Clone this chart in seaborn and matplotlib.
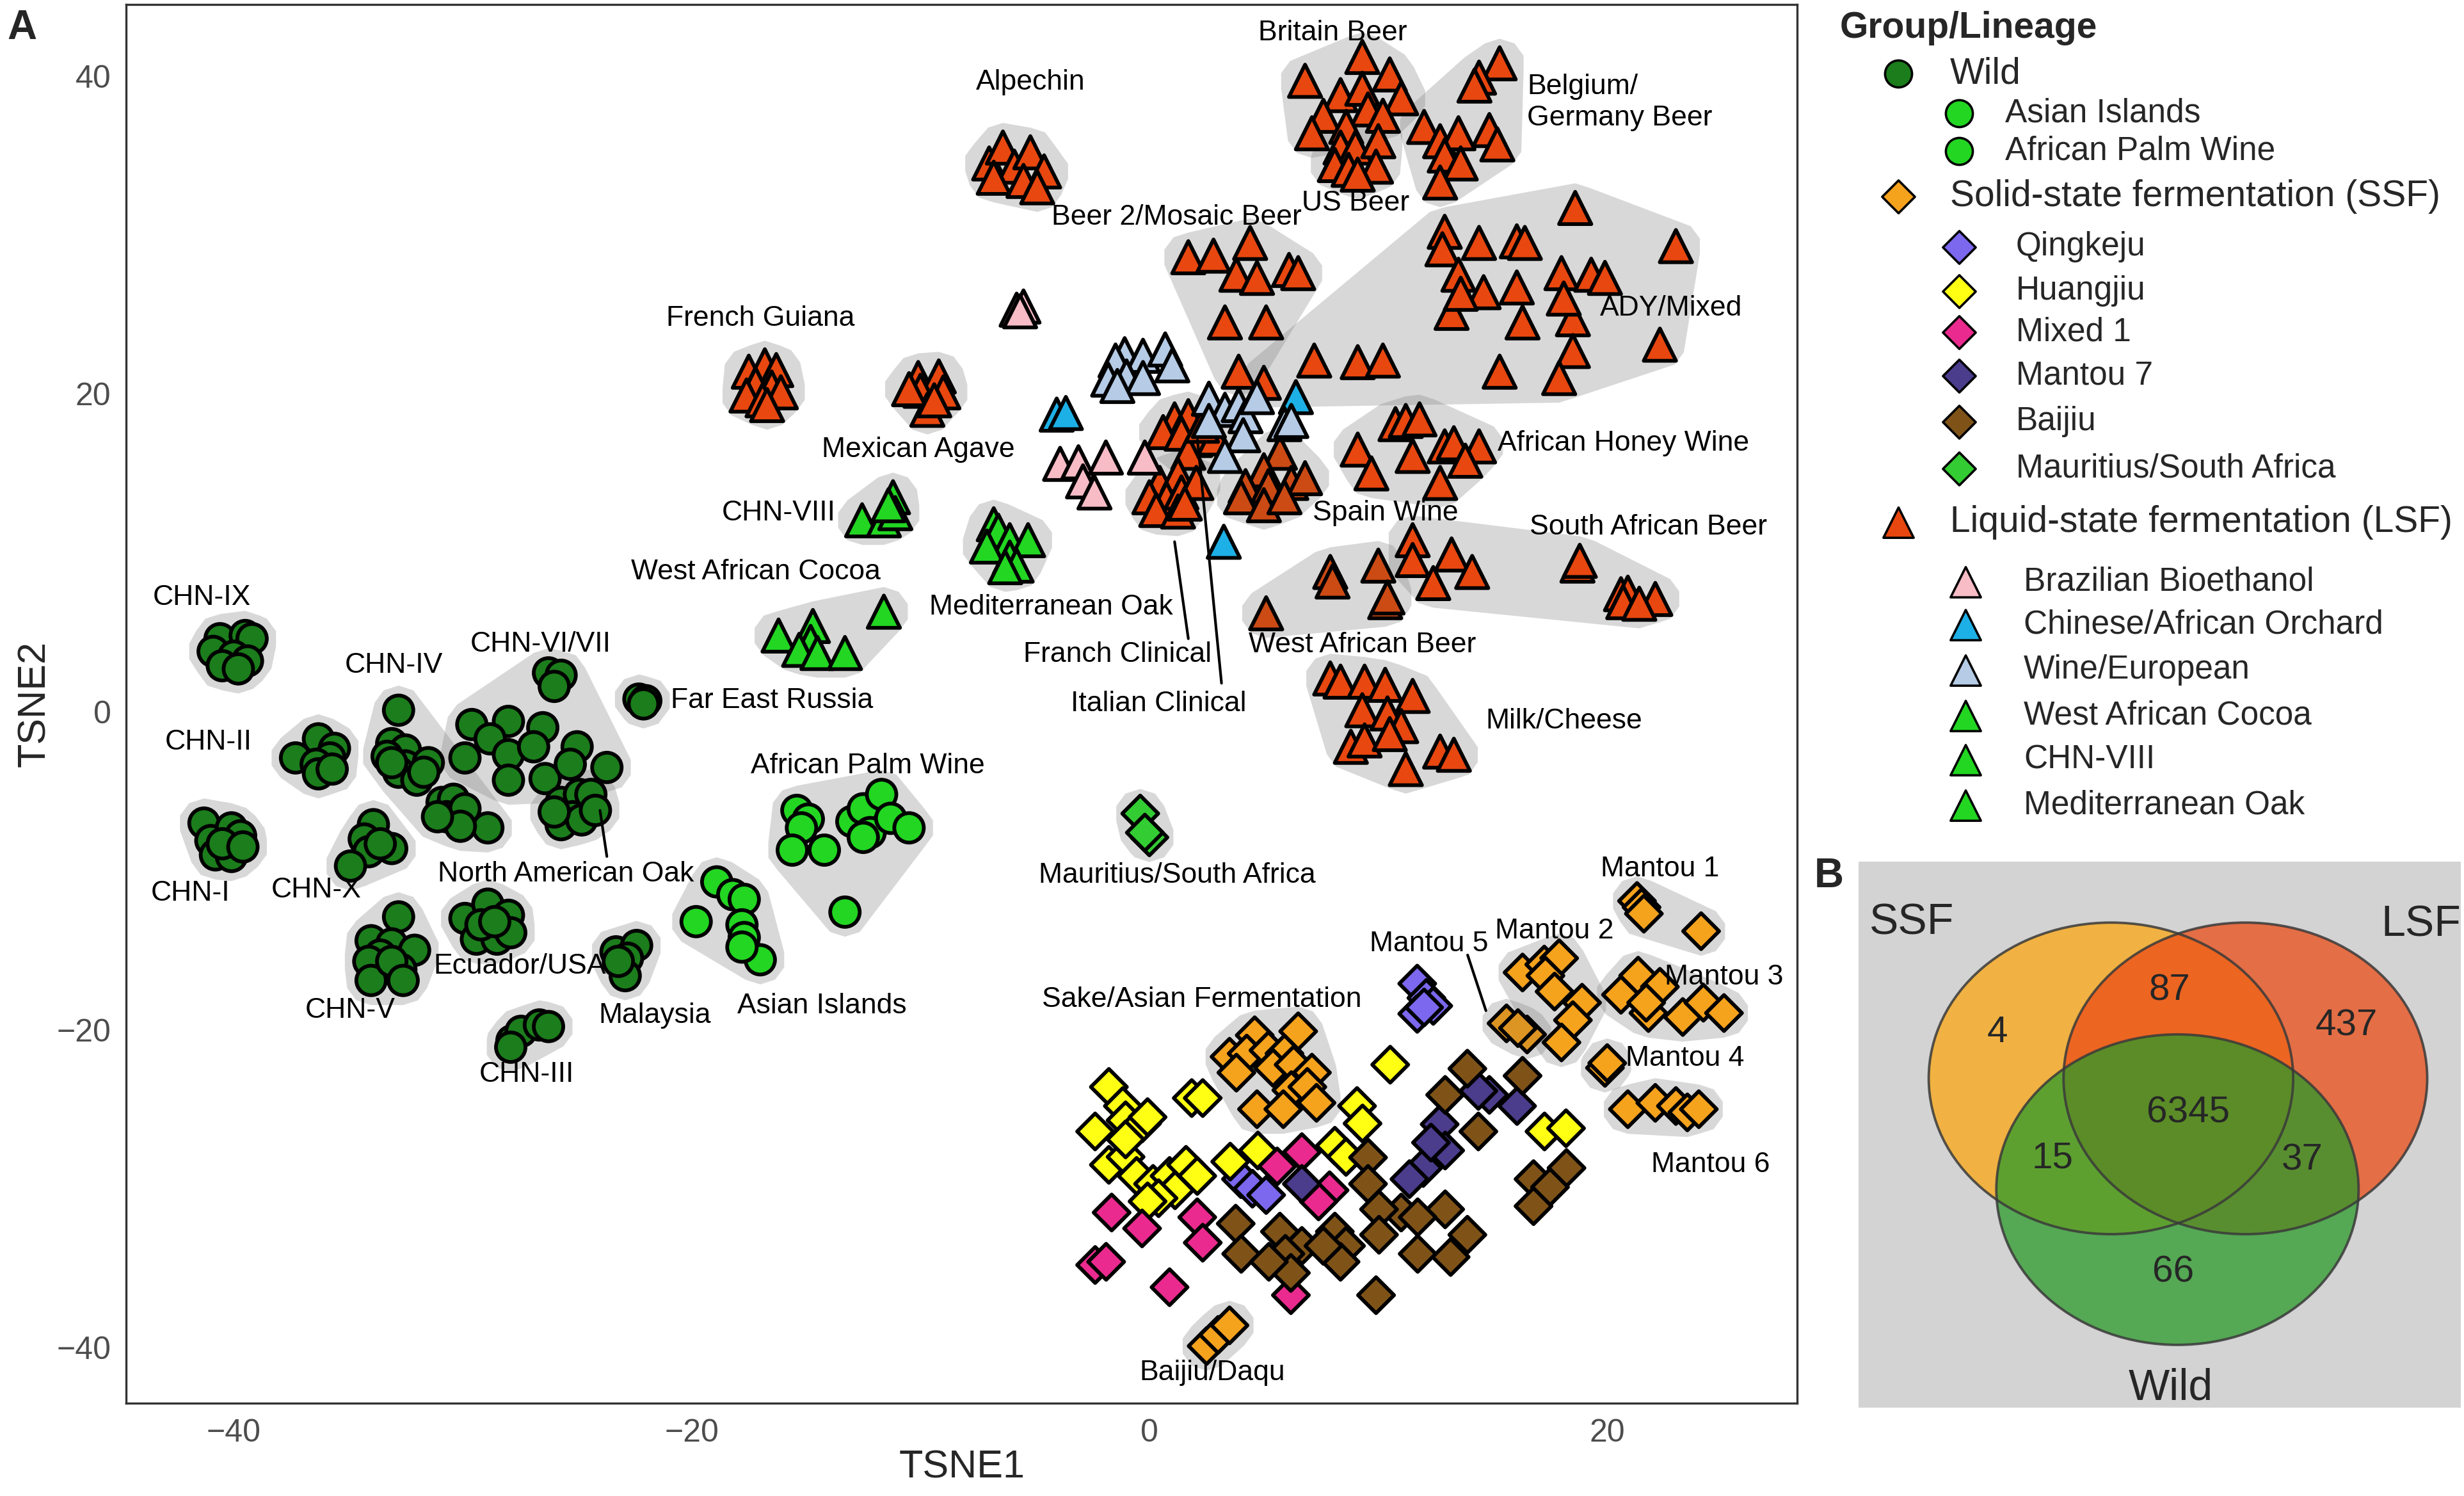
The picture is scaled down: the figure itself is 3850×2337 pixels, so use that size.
import numpy as np
import pandas as pd
import seaborn as sns
import matplotlib.pyplot as plt
from matplotlib.patches import Ellipse, Polygon

# ---------------- t-SNE coordinates ----------------
# Wild (circles)
chn_ix = [(-40.6, 4.6), (-39.5, 4.8), (-39.2, 4.6), (-40.9, 3.8), (-40.0, 3.5), (-39.4, 3.2), (-40.5, 2.9), (-39.8, 2.7)]
chn_ii = [(-37.3, -2.9), (-36.3, -1.7), (-35.6, -2.3), (-35.8, -2.9), (-36.4, -3.3), (-36.3, -3.9), (-35.7, -3.6)]
chn_i = [(-41.3, -7.0), (-41.0, -8.1), (-40.1, -7.3), (-39.7, -7.8), (-40.8, -9.0), (-40.1, -9.1), (-40.5, -8.3), (-39.6, -8.5)]
chn_x = [(-33.9, -7.1), (-34.3, -8.0), (-33.1, -8.6), (-34.1, -8.8), (-34.9, -9.7), (-33.6, -8.3)]
chn_iv = [(-32.8, 0.1), (-33.1, -2.0), (-32.5, -2.4), (-33.3, -2.8), (-32.5, -3.4), (-31.5, -3.2), (-32.8, -3.8),
          (-32.0, -4.3), (-33.1, -3.2), (-31.7, -3.8), (-30.9, -5.7), (-30.4, -5.5), (-30.7, -6.6), (-29.9, -6.1),
          (-28.9, -7.3), (-30.1, -7.2), (-31.1, -6.6)]
chn_vi_vii = [(-26.25, 2.45), (-25.7, 2.3), (-26.0, 1.6), (-29.6, -0.8), (-28.0, -0.6), (-26.5, -1.0), (-29.9, -2.9),
              (-28.8, -1.7), (-28.0, -2.7), (-26.9, -2.2), (-25.0, -2.2), (-23.7, -3.5), (-28.0, -4.3), (-26.4, -4.2),
              (-25.3, -3.3)]
na_oak = [(-25.7, -5.7), (-24.9, -5.2), (-24.4, -5.2), (-25.2, -6.6), (-25.7, -7.1), (-24.8, -6.8), (-24.2, -6.2), (-26.0, -6.3)]
far_east_russia = [(-22.3, 0.8), (-22.0, 0.7), (-22.1, 0.5)]
chn_v = [(-32.8, -12.9), (-34.0, -14.4), (-33.1, -14.6), (-32.1, -15.0), (-33.6, -15.3), (-34.1, -15.7), (-32.7, -16.2),
         (-34.0, -16.9), (-33.1, -15.7), (-32.6, -16.9)]
ecuador_usa = [(-29.9, -13.0), (-28.9, -12.1), (-28.0, -12.8), (-29.4, -14.3), (-28.5, -14.3), (-27.9, -13.9),
               (-29.2, -13.4), (-28.6, -13.2)]
malaysia = [(-23.3, -15.1), (-22.4, -14.7), (-22.8, -15.5), (-22.9, -16.6), (-23.2, -15.7)]
chn_iii = [(-27.85, -20.7), (-27.45, -20.1), (-26.65, -19.7), (-26.25, -19.8), (-27.9, -21.1)]
asian_islands = [(-18.9, -10.7), (-18.2, -11.5), (-17.7, -11.8), (-19.8, -13.2), (-17.8, -13.4), (-17.7, -14.2), (-17.0, -15.6), (-17.8, -14.8)]
palm_wine = [(-15.4, -6.2), (-14.9, -6.75), (-15.2, -7.3), (-15.6, -8.7), (-14.2, -8.7), (-13.0, -6.9), (-12.5, -6.1),
             (-11.7, -5.2), (-12.2, -7.6), (-11.3, -6.7), (-10.5, -7.3), (-13.3, -12.6), (-12.5, -7.9)]

# Solid-state fermentation (diamonds)
mantou_1 = [(21.3, -11.9), (21.5, -12.3), (21.6, -12.7), (24.1, -13.8)]
mantou_2 = [(16.3, -16.4), (17.25, -15.9), (17.9, -15.5), (17.3, -16.6), (17.7, -17.6), (18.9, -18.3), (18.5, -19.4), (18.0, -20.8)]
mantou_3 = [(20.6, -17.8), (21.35, -16.6), (22.3, -17.3), (21.8, -18.95), (23.3, -19.2), (24.2, -18.3), (25.1, -18.95), (21.7, -18.3)]
mantou_4 = [(19.9, -22.4), (20.0, -22.1)]
mantou_5 = [(15.6, -19.6), (16.5, -20.3), (16.1, -19.9)]
mantou_6 = [(20.9, -25.0), (22.1, -24.6), (23.0, -24.8), (23.5, -25.2), (24.0, -25.0)]
sake = [(4.6, -20.35), (6.5, -20.1), (3.5, -21.7), (4.25, -21.5), (5.2, -21.3), (5.9, -21.5), (3.8, -22.7), (5.4, -22.4),
        (6.3, -22.2), (7.1, -22.7), (6.2, -23.8), (6.9, -23.6), (4.7, -25.0), (5.85, -25.0), (7.3, -24.6)]
baijiu_daqu = [(2.5, -39.9), (3.0, -39.2), (3.5, -38.6)]
qingkeju = [(11.7, -17.1), (12.1, -18.0), (12.4, -18.5), (11.7, -19.0), (12.0, -18.6), (4.0, -29.4), (4.5, -30.0), (5.1, -30.4)]
huangjiu = [(-1.77, -23.6), (-1.16, -24.8), (-2.37, -26.4), (-1.04, -25.7), (-0.32, -25.9), (-0.08, -25.5), (-1.77, -28.5),
            (-1.04, -28.0), (-0.56, -29.2), (0.16, -29.7), (0.88, -29.2), (1.6, -28.5), (2.09, -29.2), (1.12, -30.1),
            (0.4, -30.6), (-0.08, -30.8), (1.85, -24.3), (2.33, -24.3), (3.53, -28.3), (4.74, -27.6), (8.1, -27.3),
            (8.59, -28.0), (9.07, -24.8), (9.31, -25.9), (10.52, -22.2), (17.26, -26.4), (18.2, -26.2), (-1.04, -26.9)]
mixed_1 = [(-1.65, -31.5), (-0.32, -32.5), (2.09, -31.8), (2.33, -33.4), (-2.37, -34.8), (-1.89, -34.6), (0.88, -36.2),
           (6.18, -36.7), (5.58, -28.6), (6.66, -27.7), (7.87, -30.1), (7.39, -30.8)]
mantou_7 = [(14.85, -24.1), (14.37, -23.85), (16.06, -24.8), (12.68, -25.95), (12.92, -27.6), (11.96, -28.7), (11.36, -29.4),
            (6.66, -29.7), (12.3, -27.1)]
baijiu = [(13.89, -22.45), (16.3, -22.9), (12.92, -24.1), (9.55, -28.04), (9.55, -29.7), (14.37, -26.4), (18.22, -28.7),
          (16.78, -29.4), (17.5, -29.9), (16.78, -31.1), (12.92, -31.3), (11.0, -31.5), (11.72, -31.8), (10.03, -31.3),
          (8.1, -32.7), (8.59, -33.6), (8.35, -34.6), (6.66, -33.6), (5.7, -32.7), (5.94, -34.1), (6.18, -35.3),
          (3.77, -32.2), (4.01, -34.1), (10.03, -32.9), (11.72, -34.1), (13.16, -34.3), (13.89, -32.9), (9.9, -36.7),
          (7.6, -33.6), (5.22, -34.6)]
mauritius = [(-0.4, -6.4), (0.0, -7.9), (-0.2, -7.6)]

# Liquid-state fermentation (triangles)
britain_beer = [(9.3, 41.2), (6.8, 39.7), (10.5, 40.1), (8.35, 38.8), (9.3, 39.2), (11.0, 38.6), (7.6, 37.5), (9.55, 37.9),
                (10.2, 37.5), (7.1, 36.4), (8.6, 36.8)]
us_beer = [(8.35, 35.5), (9.0, 35.5), (10.0, 35.9), (8.1, 34.4), (8.7, 34.1), (9.9, 34.3), (9.1, 33.8)]
belgium_beer = [(15.3, 40.8), (14.4, 39.9), (14.2, 39.4), (12.0, 36.8), (12.7, 35.9), (13.5, 36.4), (14.85, 36.6),
                (15.2, 35.7), (12.9, 35.0), (13.6, 34.5), (12.7, 33.3)]
alpechin = [(-7.0, 34.5), (-6.4, 35.5), (-5.9, 34.3), (-5.2, 35.2), (-4.6, 34.0), (-6.8, 33.6), (-5.5, 33.4), (-4.9, 33.0)]
beer_2 = [(1.7, 28.6), (2.8, 28.7), (4.4, 29.5), (3.8, 27.5), (4.7, 27.3), (6.1, 27.8), (6.5, 27.6), (3.3, 24.5),
          (5.1, 24.5), (3.9, 21.4)]
ady_mixed = [(18.6, 31.7), (12.9, 30.2), (12.8, 29.1), (14.4, 29.5), (16.05, 29.6), (16.4, 29.5), (23.0, 29.3), (13.5, 27.5),
             (14.6, 26.4), (16.05, 26.7), (18.0, 27.6), (19.3, 27.5), (19.9, 27.3), (13.2, 25.1), (16.3, 24.5), (18.5, 24.7),
             (18.1, 26.0), (22.3, 23.1), (18.5, 22.7), (15.3, 21.4), (17.9, 21.0), (13.6, 26.3), (7.2, 22.1), (9.1, 22.0),
             (10.2, 22.1), (5.0, 20.7)]
french_guiana = [(-17.5, 21.4), (-16.8, 21.8), (-16.3, 21.5), (-17.2, 20.6), (-16.5, 20.4), (-17.6, 19.9), (-16.9, 19.6),
                 (-16.1, 20.1), (-16.7, 19.3)]
mexican_agave = [(-10.1, 21.0), (-9.2, 21.1), (-10.0, 20.2), (-9.0, 20.1), (-9.7, 19.0), (-10.5, 20.3), (-9.4, 19.6)]
italian_clinical = [(1.1, 18.4), (1.7, 18.6), (0.6, 17.6), (1.4, 17.5), (2.0, 17.1), (2.85, 17.2), (1.7, 16.3), (2.3, 18.0)]
franch_clinical = [(0.45, 14.4), (1.25, 14.9), (0.0, 13.5), (0.75, 13.4), (1.4, 13.8), (2.05, 14.4), (0.3, 12.7),
                   (1.25, 12.6), (1.55, 13.1)]
honey_wine = [(10.75, 18.1), (11.2, 18.3), (11.8, 18.4), (9.1, 16.5), (9.7, 15.0), (11.5, 16.1), (12.9, 16.7), (13.3, 16.9),
              (14.4, 16.7), (13.8, 15.8), (12.7, 14.4)]
spain_wine = [(5.7, 16.3), (5.0, 15.2), (4.2, 14.2), (5.2, 14.2), (6.2, 14.4), (6.8, 14.7), (4.0, 13.5), (5.0, 13.0), (5.9, 13.5)]
south_african_beer = [(11.5, 10.8), (11.5, 9.55), (13.2, 9.9), (14.1, 8.8), (12.4, 8.1), (18.7, 9.2), (18.8, 9.5),
                      (20.6, 7.4), (20.9, 7.5), (22.1, 7.1), (20.7, 6.9), (21.4, 6.8)]
west_african_beer = [(7.9, 8.8), (8.0, 8.2), (10.0, 9.2), (10.3, 6.9), (10.4, 7.2), (5.1, 6.2)]
milk_cheese = [(7.9, 2.1), (8.35, 1.9), (9.4, 1.9), (10.3, 1.7), (11.5, 1.0), (9.3, 0.1), (10.4, -0.1), (11.0, -0.9),
               (8.8, -2.2), (9.4, -1.8), (10.5, -1.4), (12.7, -2.5), (13.3, -2.7), (11.2, -3.6)]
braz_bioethanol = [(-5.8, 25.3), (-5.5, 25.5), (-5.65, 25.2), (-3.9, 15.6), (-3.1, 15.7), (-1.9, 16.0), (-2.9, 14.5),
                   (-2.4, 13.8), (-0.2, 16.0)]
orchard = [(-4.05, 18.7), (-3.65, 18.8), (6.4, 19.8), (3.25, 10.7)]
wine_european = [(-1.08, 22.5), (-1.48, 22.1), (-0.28, 22.4), (0.69, 22.8), (1.0, 21.8), (-1.8, 20.9), (-1.0, 21.1),
                 (-0.28, 21.0), (-1.4, 20.5), (2.6, 19.7), (3.3, 19.0), (3.9, 19.3), (4.2, 18.6), (4.7, 19.8),
                 (4.1, 17.4), (3.3, 16.1), (5.9, 18.1), (2.6, 18.3), (6.2, 18.3)]
west_african_cocoa = [(-16.2, 4.8), (-14.7, 5.4), (-14.8, 4.4), (-15.3, 3.9), (-14.5, 3.7), (-13.3, 3.7), (-11.6, 6.3)]
chn_viii = [(-12.55, 12.05), (-11.2, 13.5), (-11.6, 12.05), (-11.1, 12.5), (-11.4, 13.0)]
med_oak = [(-6.8, 11.8), (-6.6, 11.4), (-6.1, 10.8), (-5.3, 10.8), (-7.1, 10.4), (-6.1, 9.7), (-5.8, 9.2), (-6.3, 9.1)]

# cluster table: name, group, lineage (colour key), points, draw hull
clusters = [
    ("CHN-IX", "Wild", "Wild", chn_ix, True), ("CHN-II", "Wild", "Wild", chn_ii, True),
    ("CHN-I", "Wild", "Wild", chn_i, True), ("CHN-X", "Wild", "Wild", chn_x, True),
    ("CHN-IV", "Wild", "Wild", chn_iv, True), ("CHN-VI/VII", "Wild", "Wild", chn_vi_vii, True),
    ("North American Oak", "Wild", "Wild", na_oak, True), ("Far East Russia", "Wild", "Wild", far_east_russia, True),
    ("CHN-V", "Wild", "Wild", chn_v, True), ("Ecuador/USA", "Wild", "Wild", ecuador_usa, True),
    ("Malaysia", "Wild", "Wild", malaysia, True), ("CHN-III", "Wild", "Wild", chn_iii, True),
    ("Asian Islands", "Wild", "Asian Islands", asian_islands, True),
    ("African Palm Wine", "Wild", "African Palm Wine", palm_wine, True),
    ("Mantou 1", "SSF", "SSF", mantou_1, True), ("Mantou 2", "SSF", "SSF", mantou_2, True),
    ("Mantou 3", "SSF", "SSF", mantou_3, True), ("Mantou 4", "SSF", "SSF", mantou_4, True),
    ("Mantou 5", "SSF", "Mantou 5", mantou_5, True), ("Mantou 6", "SSF", "SSF", mantou_6, True),
    ("Sake/Asian Fermentation", "SSF", "SSF", sake, True), ("Baijiu/Daqu", "SSF", "SSF", baijiu_daqu, True),
    ("Qingkeju", "SSF", "Qingkeju", qingkeju, False), ("Huangjiu", "SSF", "Huangjiu", huangjiu, False),
    ("Mixed 1", "SSF", "Mixed 1", mixed_1, False), ("Mantou 7", "SSF", "Mantou 7", mantou_7, False),
    ("Baijiu", "SSF", "Baijiu", baijiu, False),
    ("Mauritius/South Africa", "SSF", "Mauritius/South Africa", mauritius, True),
    ("Britain Beer", "LSF", "LSF", britain_beer, True), ("US Beer", "LSF", "LSF", us_beer, True),
    ("Belgium/Germany Beer", "LSF", "LSF", belgium_beer, True), ("Alpechin", "LSF", "LSF", alpechin, True),
    ("Beer 2/Mosaic Beer", "LSF", "LSF", beer_2, True), ("ADY/Mixed", "LSF", "LSF", ady_mixed, True),
    ("French Guiana", "LSF", "LSF", french_guiana, True), ("Mexican Agave", "LSF", "LSF", mexican_agave, True),
    ("Italian Clinical", "LSF", "LSF", italian_clinical, True), ("Franch Clinical", "LSF", "LSF", franch_clinical, True),
    ("African Honey Wine", "LSF", "LSF", honey_wine, True), ("Spain Wine", "LSF", "LSF dark", spain_wine, True),
    ("South African Beer", "LSF", "LSF", south_african_beer, True),
    ("West African Beer", "LSF", "LSF dark", west_african_beer, True),
    ("Milk/Cheese", "LSF", "LSF", milk_cheese, True),
    ("Brazilian Bioethanol", "LSF", "Brazilian Bioethanol", braz_bioethanol, False),
    ("Chinese/African Orchard", "LSF", "Chinese/African Orchard", orchard, False),
    ("Wine/European", "LSF", "Wine/European", wine_european, False),
    ("West African Cocoa", "LSF", "West African Cocoa", west_african_cocoa, True),
    ("CHN-VIII", "LSF", "CHN-VIII", chn_viii, True),
    ("Mediterranean Oak", "LSF", "Mediterranean Oak", med_oak, True),
]

palette = {
    "Wild": "#1b7d1b", "Asian Islands": "#22d622", "African Palm Wine": "#22d622",
    "SSF": "#f5a21d", "Mantou 5": "#dc9422", "Qingkeju": "#7b68ee", "Huangjiu": "#ffff14",
    "Mixed 1": "#ea2a8e", "Mantou 7": "#4b3c8c", "Baijiu": "#7f5318", "Mauritius/South Africa": "#33cc33",
    "LSF": "#e8470f", "LSF dark": "#cc4a14", "Brazilian Bioethanol": "#f7bcc6",
    "Chinese/African Orchard": "#1db0e6", "Wine/European": "#b5cbe6",
    "West African Cocoa": "#22d622", "CHN-VIII": "#22d622", "Mediterranean Oak": "#22d622",
}
group_marker = {"Wild": ("o", 275), "SSF": ("D", 205), "LSF": ("^", 330)}

cluster_labels = [
    ("Britain Beer", 8.0, 42.7, "center"), ("Belgium/\nGermany Beer", 16.5, 38.35, "left"),
    ("Alpechin", -5.2, 39.6, "center"), ("US Beer", 9.0, 32.0, "center"),
    ("Beer 2/Mosaic Beer", 1.2, 31.1, "center"), ("ADY/Mixed", 22.8, 25.4, "center"),
    ("French Guiana", -17.0, 24.75, "center"), ("Mexican Agave", -10.1, 16.5, "center"),
    ("African Honey Wine", 20.7, 16.9, "center"), ("Spain Wine", 10.3, 12.5, "center"),
    ("CHN-VIII", -16.2, 12.5, "center"), ("South African Beer", 21.8, 11.6, "center"),
    ("West African Cocoa", -17.2, 8.8, "center"), ("Mediterranean Oak", -4.3, 6.6, "center"),
    ("CHN-IX", -41.4, 7.2, "center"), ("West African Beer", 9.3, 4.2, "center"),
    ("Franch Clinical", -1.4, 3.6, "center"), ("CHN-IV", -33.0, 2.9, "center"),
    ("CHN-VI/VII", -26.6, 4.25, "center"), ("Far East Russia", -16.5, 0.7, "center"),
    ("Italian Clinical", 0.4, 0.5, "center"), ("Milk/Cheese", 18.1, -0.6, "center"),
    ("CHN-II", -41.1, -1.9, "center"), ("African Palm Wine", -12.3, -3.4, "center"),
    ("Mauritius/South Africa", 1.2, -10.3, "center"), ("Mantou 1", 22.3, -9.9, "center"),
    ("North American Oak", -25.5, -10.2, "center"), ("CHN-I", -41.9, -11.4, "center"),
    ("CHN-X", -36.4, -11.2, "center"), ("Ecuador/USA", -27.5, -16.0, "center"),
    ("Mantou 2", 17.7, -13.8, "center"), ("Mantou 5", 12.2, -14.6, "center"),
    ("Mantou 3", 25.1, -16.7, "center"), ("Sake/Asian Fermentation", 2.3, -18.1, "center"),
    ("Asian Islands", -14.3, -18.5, "center"), ("CHN-V", -34.9, -18.8, "center"),
    ("Malaysia", -21.6, -19.1, "center"), ("Mantou 4", 23.4, -21.8, "center"),
    ("CHN-III", -27.2, -22.8, "center"), ("Mantou 6", 24.5, -28.5, "center"),
    ("Baijiu/Daqu", 2.75, -41.6, "center"),
]
leader_lines = [((-23.7, -9.1), (-24.0, -6.2)), ((1.7, 4.6), (1.1, 10.7)),
                ((3.15, 1.8), (2.1, 17.1)), ((13.9, -15.3), (14.7, -18.8))]

# Venn diagram (panel B)
venn_sets = ["SSF", "LSF", "Wild"]
venn_regions = ["SSF", "SSF&LSF", "LSF", "SSF&LSF&Wild", "SSF&Wild", "LSF&Wild", "Wild"]
venn_counts = [4, 87, 437, 6345, 15, 37, 66]

# ---------------- build data frame ----------------
rows = []
for name, grp, lin, pts, _ in clusters:
    for x, y in pts:
        rows.append((x, y, grp, lin, name))
df = pd.DataFrame(rows, columns=["TSNE1", "TSNE2", "group", "lineage", "cluster"])


def convex_hull(p):
    p = sorted(set(map(tuple, np.round(p, 6))))
    if len(p) < 3:
        return np.array(p)

    def cross(o, a, b):
        return (a[0] - o[0]) * (b[1] - o[1]) - (a[1] - o[1]) * (b[0] - o[0])
    lower, upper = [], []
    for q in p:
        while len(lower) >= 2 and cross(lower[-2], lower[-1], q) <= 0:
            lower.pop()
        lower.append(q)
    for q in reversed(p):
        while len(upper) >= 2 and cross(upper[-2], upper[-1], q) <= 0:
            upper.pop()
        upper.append(q)
    return np.array(lower[:-1] + upper[:-1])


sns.set_theme(style="white")
plt.rcParams["font.family"] = ["Liberation Sans", "DejaVu Sans"]

fig = plt.figure(figsize=(19.25, 11.685), dpi=200)
ax = fig.add_axes([0.0512, 0.062, 0.6782, 0.935])

# hulls
ang = np.linspace(0, 2 * np.pi, 10, endpoint=False) + np.pi / 10
rx, ry = 1.1, 1.55
for name, grp, lin, pts, hull in clusters:
    if not hull:
        continue
    p = np.array(pts)
    exp = np.vstack([p + np.c_[rx * np.cos(a) * np.ones(len(p)), ry * np.sin(a) * np.ones(len(p))] for a in ang])
    h = convex_hull(exp)
    ax.add_patch(Polygon(h, closed=True, fc="0.5", alpha=0.3, ec="none", zorder=1))

# points
for grp in ["Wild", "SSF", "LSF"]:
    mk, sz = group_marker[grp]
    sub = df[df["group"] == grp]
    sns.scatterplot(data=sub, x="TSNE1", y="TSNE2", hue="lineage", palette=palette, marker=mk, s=sz,
                    edgecolor="black", linewidth=2.1, legend=False, ax=ax, zorder=3)

for txt, x, y, ha in cluster_labels:
    ax.text(x, y, txt, ha=ha, va="center", fontsize=16, color="black", zorder=5, linespacing=1.25)
for (x0, y0), (x1, y1) in leader_lines:
    ax.plot([x0, x1], [y0, y1], color="black", lw=1.5, zorder=4)

ax.set_xlim(-44.7, 28.3)
ax.set_ylim(-43.5, 44.5)
ax.set_xticks([-40, -20, 0, 20])
ax.set_yticks([-40, -20, 0, 20, 40])
for sp in ax.spines.values():
    sp.set_color("#333333")
    sp.set_linewidth(1.2)
ax.tick_params(direction="out", length=5.5, width=1.2, color="#333333", labelsize=18, labelcolor="#4d4d4d", pad=3)
ax.set_xlabel("TSNE1", fontsize=22, labelpad=1)
ax.set_ylabel("TSNE2", fontsize=22, labelpad=2)

# ---------------- legend (drawn by hand, reference layout) ----------------
ov = fig.add_axes([0, 0, 1, 1], zorder=10)
ov.set_xlim(0, 1567)
ov.set_ylim(951, 0)
ov.axis("off")
ov.text(1170, 18, "Group/Lineage", fontsize=20.5, fontweight="bold", ha="left", va="center")
legend_rows = [
    ("Wild", "Wild", "o", 0), ("Asian Islands", "Asian Islands", "o", 1),
    ("African Palm Wine", "African Palm Wine", "o", 1),
    ("Solid-state fermentation (SSF)", "SSF", "D", 0), ("Qingkeju", "Qingkeju", "D", 1),
    ("Huangjiu", "Huangjiu", "D", 1), ("Mixed 1", "Mixed 1", "D", 1), ("Mantou 7", "Mantou 7", "D", 1),
    ("Baijiu", "Baijiu", "D", 1), ("Mauritius/South Africa", "Mauritius/South Africa", "D", 1),
    ("Liquid-state fermentation (LSF)", "LSF", "^", 0), ("Brazilian Bioethanol", "Brazilian Bioethanol", "^", 1),
    ("Chinese/African Orchard", "Chinese/African Orchard", "^", 1), ("Wine/European", "Wine/European", "^", 1),
    ("West African Cocoa", "West African Cocoa", "^", 1), ("CHN-VIII", "CHN-VIII", "^", 1),
    ("Mediterranean Oak", "Mediterranean Oak", "^", 1),
]
legend_y = [47, 72, 96, 125, 157, 185, 211, 239, 268, 298, 332, 370, 397, 426, 455, 483, 512]
for (lab, key, mk, lvl), yy in zip(legend_rows, legend_y):
    sz = {"o": 230, "D": 170, "^": 290}[mk]
    if lvl == 0:
        mx, tx, fs = 1207, 1240, 20.5
    else:
        mx = 1246 if mk != "^" else 1250
        tx = {"o": 1275, "D": 1282, "^": 1287}[mk]
        fs = 18.5
    ov.scatter([mx], [yy], s=sz, marker=mk, c=palette[key], edgecolors="black", linewidths=1.3)
    ov.text(tx, yy, lab, fontsize=fs, ha="left", va="center")

ov.text(14, 18, "A", fontsize=23, fontweight="bold", ha="center", va="center")
ov.text(1163, 557, "B", fontsize=23, fontweight="bold", ha="center", va="center")

# ---------------- Venn diagram ----------------
vax = fig.add_axes([0.7543, 0.0590, 0.2444, 0.3650])
vax.set_xlim(0, 383)
vax.set_ylim(347, 0)
vax.set_facecolor("#d3d3d3")
for sp in vax.spines.values():
    sp.set_visible(False)
vax.set_xticks([])
vax.set_yticks([])
venn_fill = {"SSF": "#fca713", "LSF": "#eb4c16", "Wild": "#2b9a2a"}
venn_shape = {"SSF": (160.5, 137.7, 231.8, 198), "LSF": (246.0, 137.7, 231.3, 198), "Wild": (202.8, 208.4, 230.4, 197.3)}
for s in venn_sets:
    cx, cy, w, h = venn_shape[s]
    vax.add_patch(Ellipse((cx, cy), w, h, fc=venn_fill[s], alpha=0.75, ec="none", zorder=2))
for s in venn_sets:
    cx, cy, w, h = venn_shape[s]
    vax.add_patch(Ellipse((cx, cy), w, h, fill=False, ec="#3a3a3a", lw=1.4, alpha=0.85, zorder=3))
region_pos = {"SSF": (88.3, 108.4), "SSF&LSF": (197.6, 82), "LSF": (310.3, 104.4), "SSF&LSF&Wild": (209.7, 159.6),
              "SSF&Wild": (123.4, 188.6), "LSF&Wild": (282.1, 189.9), "Wild": (200.2, 260.9)}
for reg, cnt in zip(venn_regions, venn_counts):
    x, y = region_pos[reg]
    vax.text(x, y, str(cnt), fontsize=21, ha="center", va="center", zorder=4)
set_pos = {"SSF": (33.8, 38.7), "LSF": (357.6, 40), "Wild": (198.4, 334.5)}
for s in venn_sets:
    x, y = set_pos[s]
    vax.text(x, y, s, fontsize=24.5, ha="center", va="center", zorder=4)

fig.savefig("out.png", dpi=200)
